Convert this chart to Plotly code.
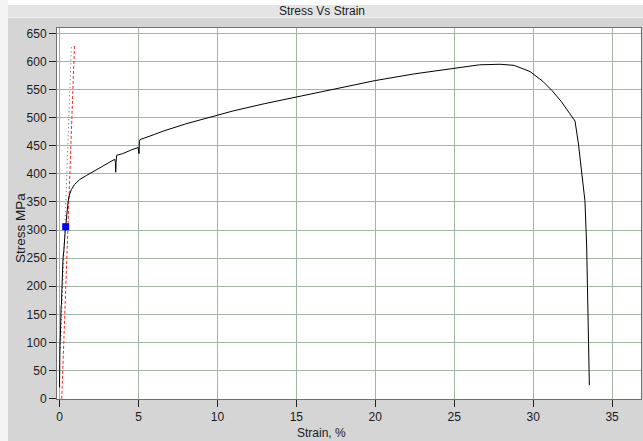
import plotly.graph_objects as go

# ---- data ----
strain_pct = [0.00, 0.00, 0.01, 0.03, 0.05, 0.06, 0.10, 0.12, 0.15, 0.20, 0.22, 0.27, 0.30, 0.36,
              0.39, 0.45, 0.54, 0.62, 0.75, 0.95, 1.28, 1.70, 2.12, 2.60, 3.00, 3.30, 3.50, 3.54,
              3.56, 3.58, 3.62, 4.00, 4.50, 4.98, 5.02, 5.04, 5.06, 5.10, 6.00, 6.56, 8.00, 9.52,
              11.0, 13.0, 15.0, 17.0, 20.0, 22.5, 25.0, 26.6, 27.9, 28.8, 29.8, 30.6, 31.2, 31.8,
              32.3, 32.65, 32.86, 33.07, 33.28, 33.39, 33.43, 33.49, 33.56]
stress_mpa = [20, 45, 55, 100, 108, 160, 163, 168, 205, 212, 250, 262, 285, 298,
              306, 330, 350, 362, 372, 381, 390, 397, 404, 412, 418, 423, 426, 420,
              403, 420, 433, 436, 442, 447, 437, 436, 458, 461, 470, 476, 489, 500,
              512, 525, 537, 549, 566, 578, 588, 594, 595, 593, 582, 565, 548, 528,
              508, 494, 455, 402, 352, 270, 200, 112, 24]

modulus_line_x = [0.14, 0.95]
modulus_line_y = [0, 630]
offset_line_x = [0.06, 0.75]
offset_line_y = [90, 625]
yield_x = [0.39]
yield_y = [306]

x_ticks = [0, 5, 10, 15, 20, 25, 30, 35]
y_ticks = list(range(0, 651, 50))

title_text = "Stress Vs Strain"
x_title = "Strain, %"
y_title = "Stress MPa"

# ---- figure ----
W, H = 643, 441
L, R, T, B = 57, 2, 28, 42
pw, ph = W - L - R, H - T - B

def px(xp):
    return (xp - L) / pw

def py(yp):
    return (H - B - yp) / ph

FONT = "Liberation Sans, Arial, sans-serif"
TXT = "#1a1a22"

fig = go.Figure()
fig.add_trace(go.Scatter(x=offset_line_x, y=offset_line_y, mode="lines",
                         line=dict(color="#606060", width=1, dash="1px,3px"),
                         hoverinfo="skip", showlegend=False))
fig.add_trace(go.Scatter(x=modulus_line_x, y=modulus_line_y, mode="lines",
                         line=dict(color="#ff2020", width=1, dash="3px,2px"),
                         showlegend=False))
fig.add_trace(go.Scatter(x=strain_pct, y=stress_mpa, mode="lines",
                         line=dict(color="#000000", width=1),
                         showlegend=False))
fig.add_trace(go.Scatter(x=yield_x, y=yield_y, mode="markers",
                         marker=dict(symbol="square", size=7, color="#0000ff",
                                     line=dict(width=0)),
                         showlegend=False))

shapes = [
    dict(type="rect", xref="paper", yref="paper", x0=px(0), x1=px(W), y0=py(5), y1=py(0),
         fillcolor="#ffffff", line=dict(width=0), layer="below"),
    dict(type="rect", xref="paper", yref="paper", x0=px(8), x1=px(W), y0=py(17), y1=py(5),
         fillcolor="#e4e4e4", line=dict(width=0), layer="below"),
    dict(type="rect", xref="paper", yref="paper", x0=px(8), x1=px(W), y0=py(18), y1=py(17),
         fillcolor="#f0f0f0", line=dict(width=0), layer="below"),
    dict(type="rect", xref="paper", yref="paper", x0=px(0), x1=px(8), y0=py(H), y1=py(0),
         fillcolor="#f4f4f4", line=dict(width=0), layer="below"),
]

annotations = [
    dict(text=title_text, xref="paper", yref="paper", x=px(322), y=py(11),
         showarrow=False, xanchor="center", yanchor="middle",
         font=dict(family=FONT, size=12, color=TXT)),
    dict(text=x_title, xref="paper", yref="paper", x=px(321), y=py(433),
         showarrow=False, xanchor="center", yanchor="middle",
         font=dict(family=FONT, size=12, color=TXT)),
    dict(text=y_title, xref="paper", yref="paper", x=px(20), y=py(228),
         showarrow=False, xanchor="center", yanchor="middle", textangle=-90,
         font=dict(family=FONT, size=13.5, color=TXT)),
]

fig.update_layout(
    width=W, height=H,
    margin=dict(l=L, r=R, t=T, b=B, pad=0),
    paper_bgcolor="#d5d5d5",
    plot_bgcolor="#ffffff",
    shapes=shapes,
    annotations=annotations,
    font=dict(family=FONT, size=12, color=TXT),
    xaxis=dict(range=[-0.16, 36.83], tickvals=x_ticks, ticktext=[str(v) for v in x_ticks],
               showgrid=True, gridcolor="#a4b4a4", gridwidth=1,
               showline=True, linecolor="#707070", linewidth=1, mirror=True,
               ticks="outside", ticklen=7, tickcolor="#222222", tickwidth=1,
               zeroline=False, tickfont=dict(family=FONT, size=12, color=TXT)),
    yaxis=dict(range=[-0.5, 659.5], tickvals=y_ticks, ticktext=[str(v) for v in y_ticks],
               showgrid=True, gridcolor="#a4b4a4", gridwidth=1,
               showline=True, linecolor="#707070", linewidth=1, mirror=True,
               ticks="outside", ticklen=7, tickcolor="#222222", tickwidth=1,
               zeroline=False, tickfont=dict(family=FONT, size=12, color=TXT)),
)

fig.write_html("out.html",
               config={"displayModeBar": False},
               post_script="document.body.style.margin='0';document.body.style.overflow='hidden';")
